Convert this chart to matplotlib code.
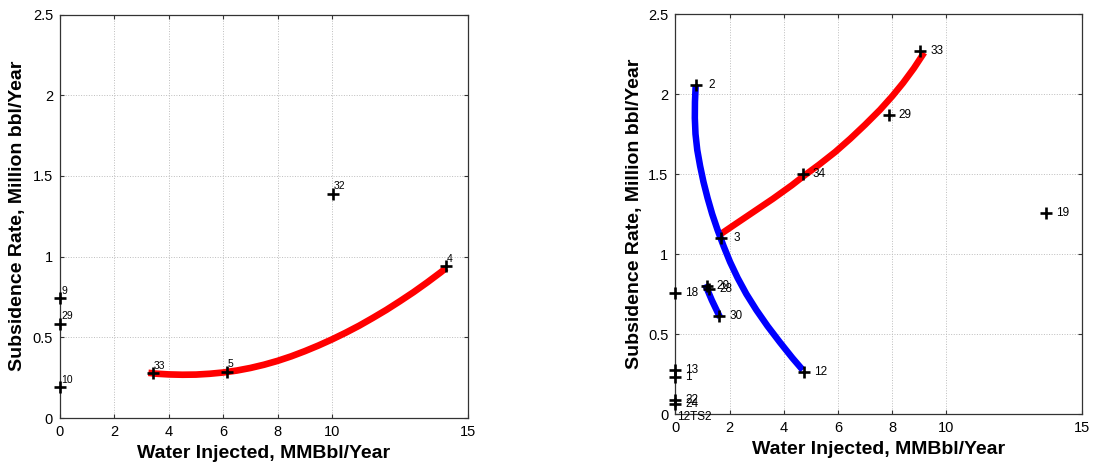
import matplotlib
matplotlib.use("Agg")
import matplotlib.pyplot as plt

# left panel: well points and fitted trend
left_labels = ["9", "29", "10", "33", "5", "32", "4"]
left_x = [0.0, 0.0, 0.0, 3.42, 6.13, 10.03, 14.18]
left_y = [0.745, 0.585, 0.193, 0.278, 0.288, 1.39, 0.94]

left_red_x = [3.25, 3.5, 4, 4.5, 5, 5.5, 6, 6.5, 7, 7.5, 8, 8.5, 9, 9.5, 10,
              10.5, 11, 11.5, 12, 12.5, 13, 13.5, 14, 14.2]
left_red_y = [0.280, 0.275, 0.270, 0.268, 0.269, 0.274, 0.282, 0.294, 0.310, 0.330,
              0.354, 0.382, 0.414, 0.449, 0.487, 0.528, 0.572, 0.620, 0.670, 0.724,
              0.780, 0.840, 0.903, 0.930]

# right panel
right_labels = ["2", "33", "29", "34", "19", "3", "20", "28", "30", "18",
                "12", "13", "1", "22", "24", "12TS2"]
right_x = [0.75, 9.03, 7.87, 4.70, 13.67, 1.675, 1.16, 1.255, 1.62, 0.0,
           4.76, 0.0, 0.0, 0.0, 0.0, -0.3]
right_y = [2.056, 2.27, 1.867, 1.50, 1.255, 1.102, 0.80, 0.783, 0.6125, 0.754,
           0.2625, 0.275, 0.233, 0.0875, 0.06, -0.02]

right_red_x = [1.565, 2.2, 2.9, 3.6, 4.3, 4.7, 5.3, 5.9, 6.45, 7.0, 7.55, 8.0,
               8.4, 8.8, 9.18]
right_red_y = [1.112, 1.185, 1.265, 1.345, 1.43, 1.483, 1.558, 1.638, 1.72, 1.808,
               1.901, 1.986, 2.069, 2.161, 2.259]

right_blue_y = [2.05, 1.95, 1.85, 1.75, 1.65, 1.55, 1.45, 1.35, 1.25, 1.15, 1.05,
                0.95, 0.85, 0.75, 0.65, 0.55, 0.45, 0.35, 0.275]
right_blue_x = [0.75, 0.725, 0.72, 0.745, 0.81, 0.915, 1.04, 1.19, 1.36, 1.56, 1.78,
                2.02, 2.30, 2.62, 2.99, 3.40, 3.85, 4.32, 4.70]

right_blue2_x = [1.10, 1.35, 1.65]
right_blue2_y = [0.81, 0.71, 0.604]

xticks = [0, 2, 4, 6, 8, 10, 15]
yticks = [0, 0.5, 1, 1.5, 2, 2.5]
ytick_labels = ["0", "0.5", "1", "1.5", "2", "2.5"]

plt.rcParams["font.family"] = ["Liberation Sans", "DejaVu Sans"]

fig = plt.figure(figsize=(10.93, 4.66), dpi=100)
ax1 = fig.add_axes([60 / 1093, 1 - 418 / 466, 408 / 1093, 403.5 / 466])
ax2 = fig.add_axes([675.3 / 1093, 1 - 414 / 466, 406.7 / 1093, 400 / 466])


def style(ax, ylab_x, xlab_y):
    ax.set_xlim(0, 15)
    ax.set_ylim(0, 2.5)
    ax.set_xticks(xticks)
    ax.set_xticklabels([str(t) for t in xticks])
    ax.set_yticks(yticks)
    ax.set_yticklabels(ytick_labels)
    ax.grid(True, linestyle=":", color="#bdbdbd", linewidth=0.7)
    ax.tick_params(direction="in", length=3, width=0.8, top=True, right=True,
                   labelsize=10.5, pad=5, colors="#333333", labelcolor="black")
    for sp in ax.spines.values():
        sp.set_color("#333333")
        sp.set_linewidth(0.9)
    ax.set_xlabel("Water Injected, MMBbl/Year", fontsize=14, fontweight="bold")
    ax.set_ylabel("Subsidence Rate, Million bbl/Year", fontsize=14, fontweight="bold")
    ax.xaxis.set_label_coords(0.5, xlab_y)
    ax.yaxis.set_label_coords(ylab_x, 0.5)


def markers(ax, xs, ys):
    # points on the axis edge stay whole; points outside the limits are hidden
    for x, y in zip(xs, ys):
        ax.plot([x], [y], linestyle="none", marker="+", markersize=8.5,
                markeredgewidth=1.9, color="black", zorder=4, clip_on=(x < 0))


style(ax1, -0.083, -0.067)
style(ax2, -0.079, -0.0675)

# left panel
ax1.plot(left_red_x, left_red_y, color="red", linewidth=4.8,
         solid_capstyle="butt", solid_joinstyle="round", zorder=3)
markers(ax1, left_x, left_y)
for lab, x, y in zip(left_labels, left_x, left_y):
    ax1.annotate(lab, (x, y), xytext=(0.8, 3.0), textcoords="offset points",
                 ha="left", va="baseline", fontsize=7.5, zorder=5)

# right panel
for xs, ys, col in [(right_red_x, right_red_y, "red"),
                    (right_blue_x, right_blue_y, "blue"),
                    (right_blue2_x, right_blue2_y, "blue")]:
    ax2.plot(xs, ys, color=col, linewidth=4.7, solid_capstyle="butt",
             solid_joinstyle="round", zorder=3)
markers(ax2, right_x, right_y)
for lab, x, y in zip(right_labels, right_x, right_y):
    gap = 9.4 if lab in ("2", "3") else 7.2
    ax2.annotate(lab, (x, y), xytext=(gap, 0), textcoords="offset points",
                 ha="left", va="center", fontsize=8.5, zorder=5, annotation_clip=False)

fig.savefig("out.png", dpi=100)
